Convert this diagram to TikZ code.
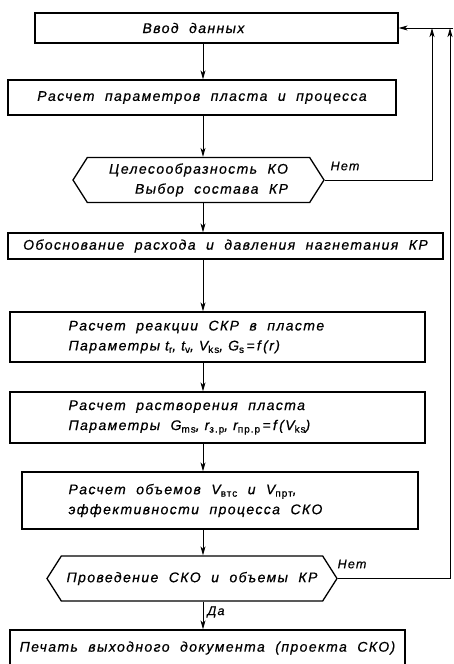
\documentclass[tikz,border=0pt]{standalone}
\usepackage{fontspec}
\newfontfamily\gost{Liberation Sans}[LetterSpace=10,FakeBold=0.6]
\newcommand{\gostfont}{\gost\itshape\fontsize{14}{20}\selectfont
    \spaceskip=10.5pt plus 2pt\relax}
\newcommand{\gostpetit}{\gost\itshape\fontsize{12.5}{13}\selectfont
    \spaceskip=8pt\relax}
\usetikzlibrary{arrows.meta,shapes.symbols}
\tikzset{%
    Bloc/.style={%
        draw,
        line width=1.3pt,
        inner sep=0pt,
        align=center
    },
    Test/.style={%
        Bloc,
        signal,
        signal to=west and east,
        signal pointer angle=115
    },
    Texte/.style={%
        anchor=west,
        align=left,
        inner sep=0pt
    },
    Fleche/.style={%
        -{Stealth[length=9pt,width=5pt,inset=2.5pt]},
        line width=.9pt
    },
    Etiquette/.style={%
        font=\gostpetit
    }
}
\newcommand{\ind}[1]{\raisebox{-2.5pt}{\fontsize{10}{10}\selectfont\upshape #1}}
\newcommand{\formule}[1]{{\spaceskip=5pt\relax #1}}

\begin{document}
\begin{tikzpicture}[x=1pt,y=-1pt,font=\gostfont]
\useasboundingbox (0,0) rectangle (453,664) ;

\coordinate (axe) at (203,0) ;
\coordinate (retour1) at (432,0) ;
\coordinate (retour2) at (450,0) ;
\coordinate (bord) at (453,0) ;

% blocs
\node[Bloc,minimum width=363pt,minimum height=30pt]
    (saisie) at (216.5,28) {} ;
\node[Texte] (saisie texte) at ([xshift=108pt]saisie.west) {Ввод данных} ;

\node[Bloc,minimum width=388pt,minimum height=35pt]
    (parametres) at (202,97.5) {Расчет параметров пласта и процесса} ;

\node[Test,minimum width=251pt,minimum height=45pt,align=right]
    (opportunite) at (198.5,180) {Целесообразность КО\\Выбор состава КР} ;

\node[Bloc,minimum width=435pt,minimum height=26pt]
    (debit) at (225.5,246) {Обоснование расхода и давления нагнетания КР} ;

\node[Bloc,minimum width=415pt,minimum height=50pt]
    (reaction) at (217.5,337) {} ;
\node[Texte] (reaction texte) at ([xshift=59pt]reaction.west)
    {Расчет реакции СКР в пласте\\
     \formule{Параметры t\ind{r}, t\ind{v}, V\ind{ks}, G\ind{s}\,=\,f\,(r)}} ;

\node[Bloc,minimum width=415pt,minimum height=51pt]
    (dissolution) at (217.5,417.5) {} ;
\node[Texte] (dissolution texte) at ([xshift=59pt]dissolution.west)
    {Расчет растворения пласта\\
     Параметры \formule{G\ind{ms}, r\ind{з.р}, r\ind{пр.р}\,=\,f\,(V\ind{ks})}} ;

\node[Bloc,minimum width=396pt,minimum height=57pt]
    (volumes) at (220,500.5) {} ;
\node[Texte] (volumes texte) at ([xshift=47pt]volumes.west)
    {Расчет объемов V\ind{втс} и V\ind{прт},\\
     эффективности процесса СКО} ;

\node[Test,minimum width=290pt,minimum height=45pt]
    (conduite) at (192,578.5) {Проведение СКО и объемы КР} ;

\node[Bloc,minimum width=395pt,minimum height=36pt]
    (impression) at (207.5,648) {Печать выходного документа (проекта СКО)} ;

% liaisons
\foreach \a/\b in {saisie/parametres,parametres/opportunite,
        opportunite/debit,debit/reaction,reaction/dissolution,
        dissolution/volumes,volumes/conduite}
    \draw[Fleche] (\a.south -| axe) -- (\b.north -| axe) ;

\draw[Fleche] (conduite.south -| axe) -- (impression.north -| axe) ;
\node[Etiquette] (oui) at (216,612) {Да} ;

% retours
\draw[Fleche] (opportunite.east) -- (opportunite.east -| retour1)
    -- (saisie.east -| retour1) ;
\draw[Fleche] (conduite.east) -- (conduite.east -| retour2)
    -- (saisie.east -| retour2) ;
\draw[Fleche] (saisie.east -| bord) -- (saisie.east) ;

\node[Etiquette] (non1) at (345,166) {Нет} ;
\node[Etiquette] (non2) at (352,564) {Нет} ;

\end{tikzpicture}
\end{document}
